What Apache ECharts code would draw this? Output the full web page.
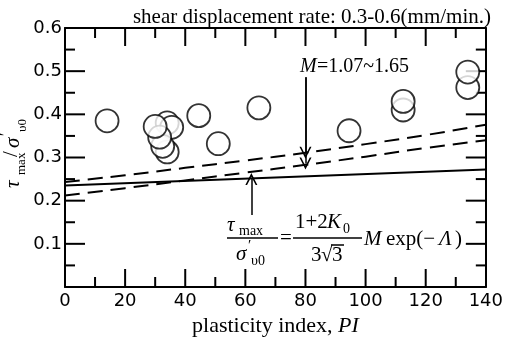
<!DOCTYPE html>
<html>
<head>
<meta charset="utf-8">
<script src="https://cdn.jsdelivr.net/npm/echarts@6/dist/echarts.min.js"></script>
<style>
  html, body { margin: 0; padding: 0; background: #fff; }
  #chart { width: 506px; height: 344px; }
</style>
</head>
<body>
<div id="chart"></div>
<script>
// measured points: plasticity index vs tau_max / sigma'_v0
const piValues = [34, 35.5, 34, 32.5, 31.5, 30, 14, 44.5, 51, 64.5, 94.5, 112.5, 112.5, 134, 134];
const ratioValues = [0.38, 0.37, 0.313, 0.326, 0.347, 0.372, 0.385, 0.397, 0.332, 0.415, 0.362, 0.41, 0.43, 0.462, 0.498];

// M = 1.07 ~ 1.65 curves (dashed) and the fitted line (solid)
const curvePI = [0, 20, 40, 60, 80, 100, 120, 140];
const upperM = [0.243, 0.259, 0.276, 0.293, 0.311, 0.331, 0.352, 0.376];
const lowerM = [0.212, 0.229, 0.247, 0.265, 0.283, 0.302, 0.322, 0.340];
const fitPI = [0, 140];
const fitRatio = [0.235, 0.272];

// arrows: [pi, from, to]
const arrowUpper = [80, 0.486, 0.311];
const arrowLower = [80, 0.486, 0.286];
const arrowFit = [62, 0.167, 0.25];

const xTickLabels = ['0', '20', '40', '60', '80', '100', '120', '140'];
const yTickLabels = ['', '0.1', '0.2', '0.3', '0.4', '0.5', '0.6'];
// inward ticks on all four sides
const xMajorTicks = [20, 40, 60, 80, 100, 120];
const xMinorTicks = [10, 30, 50, 70, 90, 110, 130];
const yMajorTicks = [0.1, 0.2, 0.3, 0.4, 0.5];
const yMinorTicks = [0.05, 0.15, 0.25, 0.35, 0.45, 0.55];

const serif = '"Liberation Serif", "Times New Roman", serif';
const sans = '"DejaVu Sans", sans-serif';
const chevron = 'path://M5,0 L10,10 L8.6,10 L5,3 L1.4,10 L0,10 Z';

const pair = (xs, ys) => xs.map((x, i) => [x, ys[i]]);
const arrow = (a) => [{ coord: [a[0], a[1]] }, { coord: [a[0], a[2]] }];

function txt(x, y, text, size, extra) {
  return {
    type: 'text', x: x, y: y, silent: true,
    style: Object.assign({
      text: text, fill: '#000', fontFamily: serif, fontSize: size,
      align: 'left', verticalAlign: 'middle'
    }, extra || {})
  };
}
function bar(x1, x2, y) {
  return { type: 'line', silent: true, shape: { x1: x1, y1: y, x2: x2, y2: y }, style: { stroke: '#000', lineWidth: 1.5 } };
}

function renderTicks(params, api) {
  const kids = [];
  const seg = (p, dx, dy) => kids.push({
    type: 'line',
    shape: { x1: p[0], y1: p[1], x2: p[0] + dx, y2: p[1] + dy },
    style: { stroke: '#000', lineWidth: 2 }
  });
  const xs = (vals, len) => vals.forEach((v) => {
    seg(api.coord([v, 0]), 0, -len);
    seg(api.coord([v, 0.6]), 0, len);
  });
  const ys = (vals, len) => vals.forEach((v) => {
    seg(api.coord([0, v]), len, 0);
    seg(api.coord([140, v]), -len, 0);
  });
  xs(xMajorTicks, 18); xs(xMinorTicks, 10);
  ys(yMajorTicks, 20); ys(yMinorTicks, 10);
  return { type: 'group', children: kids };
}

const axLine = () => ({ show: true, onZero: false, lineStyle: { color: '#000', width: 2 } });

const chart = echarts.init(document.getElementById('chart'));

const option = {
  animation: false,
  backgroundColor: '#fff',
  grid: { left: 65, right: 17, top: 28, bottom: 57 },
  xAxis: [
    {
      type: 'value', min: 0, max: 140, interval: 20,
      axisLine: axLine(), axisTick: { show: false }, splitLine: { show: false },
      axisLabel: {
        margin: 5, color: '#000', fontFamily: sans, fontSize: 18,
        showMinLabel: true, showMaxLabel: true,
        formatter: (v) => xTickLabels[Math.round(v / 20)]
      },
      name: 'plasticity index, {i|PI}', nameLocation: 'middle', nameGap: 21,
      nameTextStyle: {
        color: '#000', fontFamily: serif, fontSize: 22,
        rich: { i: { fontStyle: 'italic', fontFamily: serif, fontSize: 22, color: '#000' } }
      }
    },
    {
      type: 'value', position: 'top', min: 0, max: 140, interval: 20,
      axisLine: axLine(), axisTick: { show: false }, splitLine: { show: false },
      axisLabel: { show: false }
    }
  ],
  yAxis: [
    {
      type: 'value', min: 0, max: 0.6, interval: 0.1,
      axisLine: axLine(), axisTick: { show: false }, splitLine: { show: false },
      axisLabel: {
        margin: 3, color: '#000', fontFamily: sans, fontSize: 18,
        showMinLabel: true, showMaxLabel: true,
        formatter: (v) => yTickLabels[Math.round(v * 10)]
      }
    },
    {
      type: 'value', position: 'right', min: 0, max: 0.6, interval: 0.1,
      axisLine: axLine(), axisTick: { show: false }, splitLine: { show: false },
      axisLabel: { show: false }
    }
  ],
  series: [
    {
      type: 'custom', data: [[0, 0]], renderItem: renderTicks, silent: true, z: 1
    },
    {
      type: 'line', data: pair(curvePI, upperM), symbol: 'none', smooth: true,
      lineStyle: { color: '#000', width: 2, type: [15, 8] }, silent: true
    },
    {
      type: 'line', data: pair(curvePI, lowerM), symbol: 'none', smooth: true,
      lineStyle: { color: '#000', width: 2, type: [15, 8] }, silent: true
    },
    {
      type: 'line', data: pair(fitPI, fitRatio), symbol: 'none',
      lineStyle: { color: '#000', width: 2 }, silent: true,
      markLine: {
        silent: true, symbol: ['none', chevron], symbolSize: 12,
        label: { show: false },
        lineStyle: { color: '#000', width: 1.5, type: 'solid' },
        data: [arrow(arrowUpper), arrow(arrowLower), arrow(arrowFit)]
      }
    },
    {
      type: 'scatter', data: pair(piValues, ratioValues), z: 5,
      symbol: 'circle', symbolSize: 23,
      itemStyle: { color: '#fff', borderColor: '#000', borderWidth: 1.8 }
    }
  ],
  graphic: [
    txt(491, 17, 'shear displacement rate: 0.3-0.6(mm/min.)', 21, { align: 'right' }),
    // M label
    txt(300, 67, 'M', 20, { fontStyle: 'italic' }),
    txt(317, 67, '=1.07~1.65', 20),
    // y axis name, rotated
    {
      type: 'group', x: 13, y: 188, rotation: Math.PI / 2, silent: true,
      children: [
        txt(0, 0, 'τ', 21, { fontStyle: 'italic' }),
        txt(13, 9, 'max', 13),
        txt(31, -2, '/', 21),
        txt(40, 0, 'σ', 21, { fontStyle: 'italic' }),
        txt(52, -7, '′', 15),
        txt(56, 10, 'υ0', 13)
      ]
    },
    // formula
    txt(227, 225, 'τ', 21, { fontStyle: 'italic' }),
    txt(239, 231, 'max', 14),
    bar(227, 278, 238),
    txt(236, 254, 'σ', 21, { fontStyle: 'italic' }),
    txt(248, 246, '′', 15),
    txt(251, 261, 'υ0', 14),
    txt(286, 238, '=', 21, { align: 'center' }),
    txt(295, 222, '1+2', 21),
    txt(327, 222, 'K', 21, { fontStyle: 'italic' }),
    txt(343, 229, '0', 14),
    bar(293, 362, 238),
    txt(311, 255, '3', 21),
    txt(321, 255, '√', 21),
    txt(332, 255, '3', 21),
    bar(331, 344, 245),
    txt(364, 239, 'M', 21, { fontStyle: 'italic' }),
    txt(386, 239, 'exp(−', 21),
    txt(439, 239, 'Λ', 21, { fontStyle: 'italic' }),
    txt(455, 239, ')', 21)
  ]
};

chart.setOption(option);
</script>
</body>
</html>
